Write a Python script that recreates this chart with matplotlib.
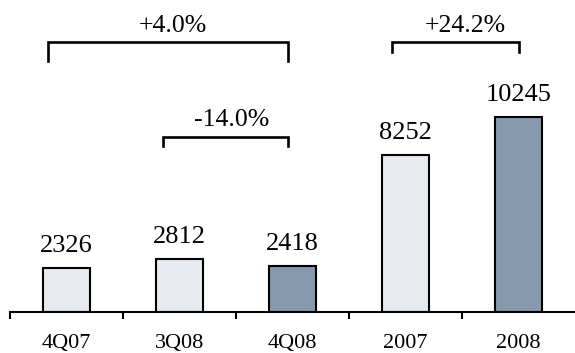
import matplotlib
matplotlib.use("Agg")
import matplotlib.pyplot as plt
from matplotlib.ticker import FixedLocator, NullFormatter, FixedFormatter

# Data
categories = ["4Q07", "3Q08", "4Q08", "2007", "2008"]
values = [2326, 2812, 2418, 8252, 10245]
bar_colors = ["#E7EAEF", "#E7EAEF", "#8799AF", "#E7EAEF", "#8799AF"]

# Growth brackets: label, x span, y span (top, bottom), text position
growth_labels = ["+4.0%", "-14.0%", "+24.2%"]
bracket_x = [(-0.16, 1.96), (0.85, 1.96), (2.88, 4.00)]
bracket_y = [(14210, 13210), (9210, 8740), (14210, 13690)]
growth_text_pos = [(0.94, 15050), (1.46, 10100), (3.53, 15050)]

plt.rcParams["font.family"] = ["Liberation Serif", "DejaVu Serif"]

W, H, DPI = 575, 353, 100
fig = plt.figure(figsize=(W / DPI, H / DPI), dpi=DPI)
ax = fig.add_axes([10 / W, (H - 312) / H, 1 - 10 / W, 312 / H])

x = list(range(len(categories)))
ax.bar(x, values, width=0.41, color=bar_colors, edgecolor="black",
       linewidth=1.5, zorder=2)

for xi, v in zip(x, values):
    ax.annotate(f"{v}", (xi, v), xytext=(0, 11.5), textcoords="offset points",
                ha="center", va="baseline", fontsize=19)

for lab, (xl, xr), (yt, yb), (tx, ty) in zip(growth_labels, bracket_x,
                                               bracket_y, growth_text_pos):
    ax.plot([xl, xl, xr, xr], [yb, yt, yt, yb], color="black", lw=1.9,
            solid_joinstyle="miter", clip_on=False)
    ax.text(tx, ty, lab, ha="center", va="center", fontsize=18.5)

ax.set_xlim(-0.5, 4.5)
ax.set_ylim(0, 16420)

for s in ["top", "right", "left"]:
    ax.spines[s].set_visible(False)
ax.spines["bottom"].set_linewidth(1.5)
ax.set_yticks([])

# Separator ticks between categories, labels centred under bars
ax.xaxis.set_major_locator(FixedLocator([-0.5, 0.5, 1.5, 2.5, 3.5]))
ax.xaxis.set_major_formatter(NullFormatter())
ax.xaxis.set_minor_locator(FixedLocator(x))
ax.xaxis.set_minor_formatter(FixedFormatter(categories))
ax.tick_params(axis="x", which="major", length=5, width=1.5, direction="out")
ax.tick_params(axis="x", which="minor", length=0, pad=16, labelsize=16)

fig.savefig("out.png", dpi=DPI)
